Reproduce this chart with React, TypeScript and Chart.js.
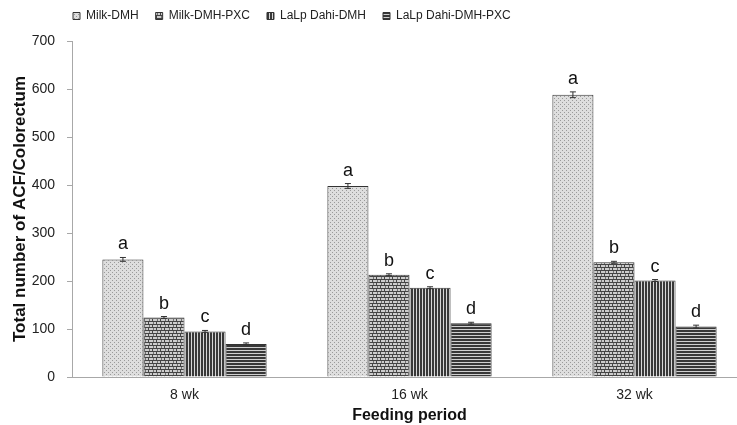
import React, { useEffect, useRef } from 'react';
import { Chart, registerables } from 'chart.js';

Chart.register(...registerables);

const categories = ['8 wk', '16 wk', '32 wk'];
const seriesNames = ['Milk-DMH', 'Milk-DMH-PXC', 'LaLp Dahi-DMH', 'LaLp Dahi-DMH-PXC'];
const milkDmh = [245, 398, 588];
const milkDmhPxc = [124, 213, 239];
const dahiDmh = [95, 186, 201];
const dahiDmhPxc = [69, 112, 105];
const milkDmhErr = [4, 5, 6];
const milkDmhPxcErr = [2, 2, 2];
const dahiDmhErr = [2, 2, 2];
const dahiDmhPxcErr = [2, 2, 3];
const significanceLetters = ['a', 'b', 'c', 'd'];
const yTickValues = [0, 100, 200, 300, 400, 500, 600, 700];

const FONT = "'Liberation Sans', Arial, sans-serif";

function makePattern(kind: number): CanvasPattern | string {
  const c = document.createElement('canvas');
  const ctx = c.getContext('2d');
  if (!ctx) return '#999';
  if (kind === 0) {
    c.width = 4; c.height = 4;
    ctx.fillStyle = '#dedede'; ctx.fillRect(0, 0, 4, 4);
    ctx.fillStyle = '#9a9a9a';
    ctx.fillRect(0, 0, 1, 1); ctx.fillRect(2, 2, 1, 1);
  } else if (kind === 1) {
    c.width = 8; c.height = 6;
    ctx.fillStyle = '#cccccc'; ctx.fillRect(0, 0, 8, 6);
    ctx.fillStyle = '#444444';
    ctx.fillRect(0, 0, 8, 1); ctx.fillRect(0, 3, 8, 1);
    ctx.fillRect(0, 1, 1, 2); ctx.fillRect(4, 4, 1, 2);
    ctx.fillStyle = '#707070';
    ctx.fillRect(5, 1, 1, 2); ctx.fillRect(1, 4, 1, 2);
  } else if (kind === 2) {
    c.width = 3; c.height = 1;
    ctx.fillStyle = '#383838'; ctx.fillRect(0, 0, 2, 1);
    ctx.fillStyle = '#d6d6d6'; ctx.fillRect(2, 0, 1, 1);
  } else {
    c.width = 1; c.height = 3;
    ctx.fillStyle = '#383838'; ctx.fillRect(0, 0, 1, 2);
    ctx.fillStyle = '#d0d0d0'; ctx.fillRect(0, 2, 1, 1);
  }
  const p = ctx.createPattern(c, 'repeat');
  return p || '#999';
}

const errorBarsPlugin = {
  id: 'errorBars',
  afterDatasetsDraw(chart: any) {
    const ctx = chart.ctx;
    const yScale = chart.scales.y;
    chart.data.datasets.forEach((ds: any, di: number) => {
      const meta = chart.getDatasetMeta(di);
      meta.data.forEach((bar: any, i: number) => {
        const v = ds.data[i];
        const e = ds.errors[i];
        const yTop = yScale.getPixelForValue(v + e);
        const yBot = yScale.getPixelForValue(v - e);
        ctx.save();
        ctx.strokeStyle = '#333';
        ctx.lineWidth = 1;
        ctx.beginPath();
        ctx.moveTo(bar.x, yTop); ctx.lineTo(bar.x, yBot);
        ctx.moveTo(bar.x - 3, yTop); ctx.lineTo(bar.x + 3, yTop);
        ctx.moveTo(bar.x - 3, yBot); ctx.lineTo(bar.x + 3, yBot);
        ctx.stroke();
        ctx.fillStyle = '#111';
        ctx.font = `18px ${FONT}`;
        ctx.textAlign = 'center';
        ctx.textBaseline = 'alphabetic';
        ctx.fillText(ds.letter, bar.x, yTop - 8);
        ctx.restore();
      });
    });
  },
};

const legendShiftPlugin = {
  id: 'legendShift',
  afterLayout(chart: any) {
    const lg = chart.legend;
    if (lg) {
      lg.left += 50; lg.right += 50;
      lg.top -= 9; lg.bottom -= 9;
    }
  },
};

export default function App() {
  const ref = useRef<HTMLCanvasElement | null>(null);
  useEffect(() => {
    document.body.style.margin = '0';
    const canvas = ref.current;
    if (!canvas) return;
    const values = [milkDmh, milkDmhPxc, dahiDmh, dahiDmhPxc];
    const errs = [milkDmhErr, milkDmhPxcErr, dahiDmhErr, dahiDmhPxcErr];
    const chart = new Chart(canvas, {
      type: 'bar',
      data: {
        labels: categories,
        datasets: seriesNames.map((name, i) => ({
          label: name,
          data: values[i],
          errors: errs[i],
          letter: significanceLetters[i],
          backgroundColor: makePattern(i),
          borderColor: '#333',
          borderWidth: 1,
          categoryPercentage: 0.73,
          barPercentage: 1,
        })) as any,
      },
      options: {
        animation: false,
        responsive: false,
        devicePixelRatio: 1,
        layout: { padding: { top: 2, left: 6, right: 13, bottom: 0 } },
        plugins: {
          legend: {
            position: 'top',
            align: 'start',
            labels: {
              boxWidth: 7,
              boxHeight: 7,
              padding: 17,
              color: '#222',
              font: { family: FONT, size: 12 },
            },
          },
          tooltip: { enabled: false },
        },
        scales: {
          x: {
            grid: { display: false, drawTicks: false },
            border: { display: true, color: '#a8a8a8', width: 1 },
            ticks: { color: '#222', font: { family: FONT, size: 14 }, padding: 10 },
            title: {
              display: true,
              text: 'Feeding period',
              color: '#111',
              font: { family: FONT, size: 16, weight: 'bold' },
              padding: { top: 0, bottom: 0 },
            },
            afterFit: (s: any) => { s.height = 48; },
          },
          y: {
            min: 0,
            max: 700,
            afterBuildTicks: (s: any) => { s.ticks = yTickValues.map((v) => ({ value: v })); },
            ticks: { color: '#222', font: { family: FONT, size: 14 }, padding: 12 },
            grid: { display: true, drawOnChartArea: false, drawTicks: true, tickLength: 5, color: '#a8a8a8' },
            border: { display: true, color: '#a8a8a8', width: 1 },
            title: {
              display: true,
              text: 'Total number of ACF/Colorectum',
              color: '#111',
              font: { family: FONT, size: 17, weight: 'bold' },
              padding: { top: 4, bottom: 4 },
            },
            afterFit: (s: any) => { s.width = 66; },
          },
        },
      } as any,
      plugins: [errorBarsPlugin, legendShiftPlugin],
    });
    return () => chart.destroy();
  }, []);
  return (
    <div style={{ position: 'fixed', left: 0, top: 0, width: 737, height: 425, overflow: 'hidden', background: '#fff' }}>
      <canvas ref={ref} width={760} height={425} style={{ width: 760, height: 425, display: 'block' }} />
    </div>
  );
}
